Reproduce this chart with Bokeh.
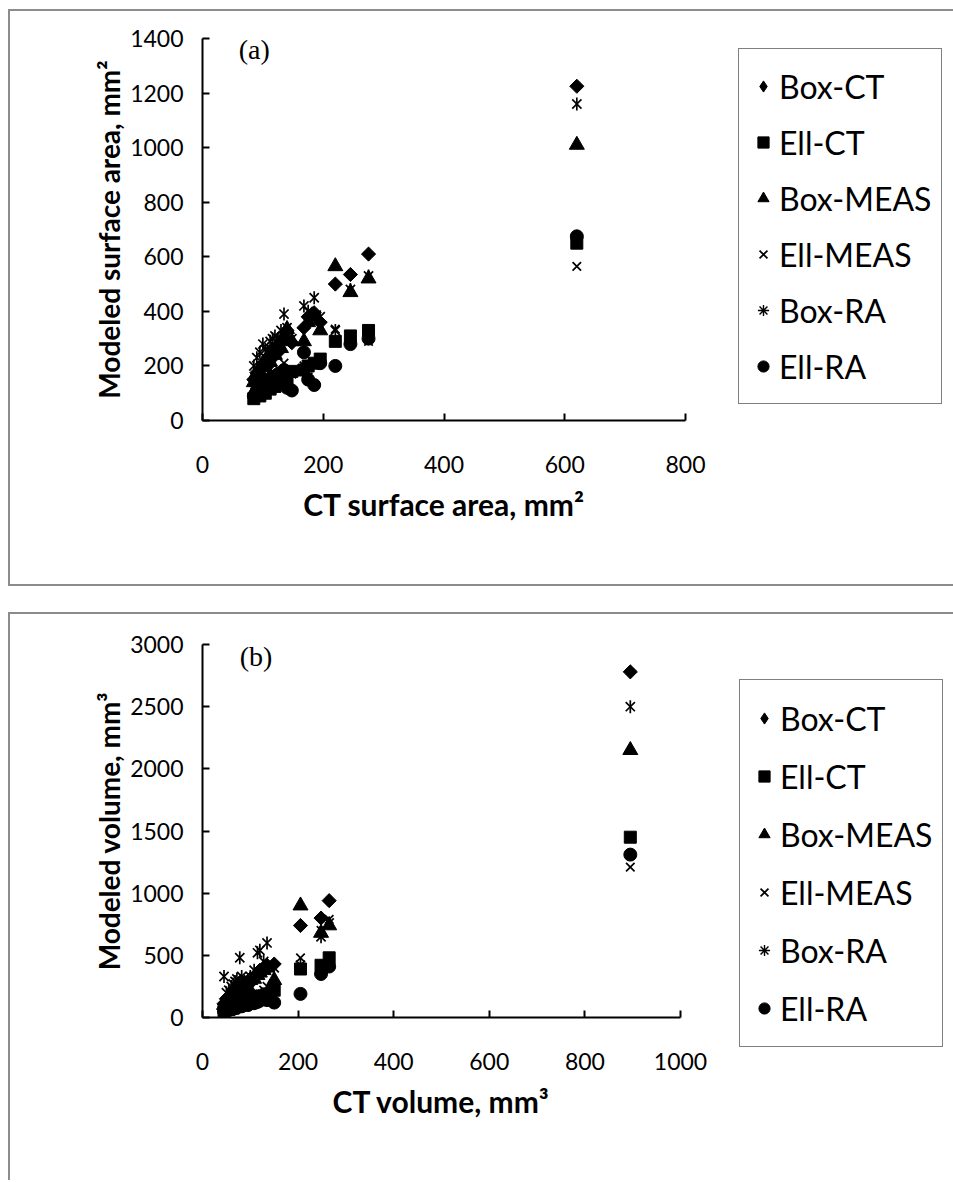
import math
from bokeh.plotting import figure
from bokeh.models import Range1d, FixedTicker, Legend, LegendItem, Label, Spacer
from bokeh.layouts import column
from bokeh.embed import file_html
from bokeh.resources import INLINE

# ---------------- data ----------------
series_names = ["Box-CT", "Ell-CT", "Box-MEAS", "Ell-MEAS", "Box-RA", "Ell-RA"]

# Panel (a): surface area
ct_surface = [85, 90, 95, 100, 104, 108, 112, 116, 120, 125, 130, 135, 140, 148,
              168, 175, 185, 195, 220, 245, 275, 620]
sa_box_ct = [150, 175, 170, 205, 215, 200, 240, 230, 265, 250, 290, 300, 330, 285,
             340, 380, 395, 360, 500, 535, 610, 1225]
sa_ell_ct = [80, 95, 90, 110, 100, 125, 115, 140, 125, 160, 135, 170, 150, 180,
             185, 200, 210, 225, 290, 310, 330, 650]
sa_box_meas = [140, 175, 160, 210, 195, 225, 215, 255, 240, 280, 265, 310, 335, 290,
               290, 360, 380, 330, 565, 470, 520, 1010]
sa_ell_meas = [95, 120, 105, 140, 125, 160, 130, 175, 150, 190, 165, 210, 185, 170,
               200, 160, 210, 220, 335, 290, 290, 565]
sa_box_ra = [200, 230, 250, 280, 260, 255, 290, 300, 310, 300, 330, 390, 340, 300,
             420, 400, 450, 380, 330, 480, 530, 1160]
sa_ell_ra = [90, 110, 100, 130, 115, 145, 125, 160, 135, 170, 145, 185, 120, 110,
             250, 150, 130, 210, 200, 280, 300, 675]

# Panel (b): volume
ct_volume = [45, 50, 55, 60, 64, 68, 72, 78, 82, 88, 95, 100, 108, 115,
             120, 128, 135, 150, 205, 248, 265, 895]
v_box_ct = [110, 150, 140, 190, 175, 220, 200, 250, 230, 280, 260, 310, 320, 350,
            380, 400, 420, 430, 740, 800, 940, 2780]
v_ell_ct = [55, 80, 65, 100, 75, 115, 90, 130, 105, 145, 120, 160, 140, 170,
            160, 175, 190, 220, 390, 420, 480, 1450]
v_box_meas = [100, 140, 125, 175, 160, 210, 190, 235, 215, 265, 245, 300, 310, 340,
              360, 380, 400, 300, 900, 680, 740, 2150]
v_ell_meas = [60, 90, 75, 110, 90, 130, 105, 150, 125, 165, 145, 185, 165, 175,
              190, 220, 250, 270, 480, 700, 790, 1210]
v_box_ra = [330, 200, 220, 250, 270, 290, 310, 480, 330, 290, 280, 330, 380, 520,
            540, 450, 600, 400, 420, 650, 760, 2500]
v_ell_ra = [50, 70, 60, 90, 70, 105, 80, 120, 90, 135, 100, 150, 115, 125,
            135, 150, 140, 120, 190, 350, 410, 1310]

a_xticks = [0, 200, 400, 600, 800]
a_yticks = [0, 200, 400, 600, 800, 1000, 1200, 1400]
b_xticks = [0, 200, 400, 600, 800, 1000]
b_yticks = [0, 500, 1000, 1500, 2000, 2500, 3000]

FONT = "Lato"
BORDER = "2px solid #8c8c8c"
CONTENT_W = 943


def make_panel(xs, ys_list, xr, yr, xticks, yticks, xlabel, ylabel, tag,
               frame_w, frame_h, mleft, mtop, mbottom, legend_entry,
               legend_vx, legend_gap_top, styles, margin, tag_pos):
    p = figure(output_backend="svg", toolbar_location=None,
               frame_width=frame_w, frame_height=frame_h,
               min_border_left=mleft, min_border_top=mtop,
               min_border_bottom=mbottom,
               min_border_right=CONTENT_W - mleft - frame_w,
               x_range=Range1d(*xr), y_range=Range1d(*yr),
               background_fill_color="white", border_fill_color="white",
               styles=styles, margin=margin)
    p.outline_line_color = None
    p.xgrid.visible = False
    p.ygrid.visible = False

    for ax, ticks in ((p.xaxis[0], xticks), (p.yaxis[0], yticks)):
        ax.ticker = FixedTicker(ticks=ticks)
        ax.minor_tick_line_color = None
        ax.major_tick_in = 7
        ax.major_tick_out = 0
        ax.axis_line_width = 2
        ax.axis_line_color = "black"
        ax.major_tick_line_width = 2
        ax.major_tick_line_color = "black"
        ax.major_label_text_font = FONT
        ax.major_label_text_font_size = "23px"
        ax.major_label_text_color = "black"
        ax.axis_label_text_font = FONT
        ax.axis_label_text_font_style = "bold"
        ax.axis_label_text_color = "black"
    p.xaxis.axis_label = xlabel
    p.yaxis.axis_label = ylabel
    p.xaxis.axis_label_text_font_size = "30px"
    p.yaxis.axis_label_text_font_size = "28px"
    p.xaxis.major_label_standoff = 35
    p.xaxis.axis_label_standoff = 10
    p.yaxis.major_label_standoff = 19
    p.yaxis.axis_label_standoff = 1

    (box_ct, ell_ct, box_meas, ell_meas, box_ra, ell_ra) = ys_list
    p.scatter(xs, box_ct, marker="square", angle=math.pi / 4, size=10,
              color="black")
    r2 = p.scatter(xs, ell_ct, marker="square", size=12, color="black")
    r3 = p.scatter(xs, box_meas, marker="triangle", size=15, color="black")
    r4 = p.scatter(xs, ell_meas, marker="x", size=12, line_color="black",
                   line_width=1.7)
    p.scatter(xs, box_ra, marker="x", size=13, line_color="black",
              line_width=1.7)
    p.scatter(xs, box_ra, marker="dash", angle=math.pi / 2, size=13,
              line_color="black", line_width=1.7)
    r6 = p.scatter(xs, ell_ra, marker="circle", size=13, color="black")

    # hidden twins used only for the legend glyphs (legend ignores marker angles)
    g1 = p.scatter(xs, box_ct, marker="diamond", size=12, color="black",
                   visible=False)
    g5 = p.scatter(xs, box_ra, marker="asterisk", size=12, line_color="black",
                   line_width=1.4, visible=False)

    items = [LegendItem(label=series_names[0], renderers=[g1]),
             LegendItem(label=series_names[1], renderers=[r2]),
             LegendItem(label=series_names[2], renderers=[r3]),
             LegendItem(label=series_names[3], renderers=[r4]),
             LegendItem(label=series_names[4], renderers=[g5]),
             LegendItem(label=series_names[5], renderers=[r6])]
    n = len(items)
    pad, spacing = 10, 2
    legend_h = 2 * pad + n * legend_entry + (n - 1) * spacing
    legend = Legend(items=items,
                    location=(legend_vx, frame_h - legend_gap_top - legend_h),
                    padding=pad, spacing=spacing, margin=0,
                    glyph_width=28, glyph_height=legend_entry,
                    label_height=legend_entry, label_standoff=2,
                    label_text_font=FONT, label_text_font_size="32px",
                    label_text_color="black",
                    border_line_color="black", border_line_width=1.5,
                    background_fill_color="white", background_fill_alpha=1.0,
                    inactive_fill_alpha=0.0)
    p.add_layout(legend, "right")

    p.add_layout(Label(x=tag_pos[0], y=tag_pos[1], text=tag,
                       text_font="Liberation Serif", text_font_size="28px",
                       text_color="black", text_baseline="middle",
                       text_align="left"))
    return p


pa = make_panel(ct_surface,
                (sa_box_ct, sa_ell_ct, sa_box_meas, sa_ell_meas, sa_box_ra, sa_ell_ra),
                (0, 800), (0, 1400), a_xticks, a_yticks,
                "CT surface area, mm²", "Modeled surface area, mm²", "(a)",
                frame_w=481, frame_h=378, mleft=192, mtop=27, mbottom=168,
                legend_entry=54, legend_vx=53, legend_gap_top=8,
                styles={"border-left": BORDER, "border-top": BORDER,
                        "border-bottom": BORDER},
                margin=(9, 0, 0, 8),
                tag_pos=(60, 1360))

pb = make_panel(ct_volume,
                (v_box_ct, v_ell_ct, v_box_meas, v_ell_meas, v_box_ra, v_ell_ra),
                (0, 1000), (0, 3000), b_xticks, b_yticks,
                "CT volume, mm³", "Modeled volume, mm³", "(b)",
                frame_w=476, frame_h=371, mleft=191, mtop=30, mbottom=165,
                legend_entry=56, legend_vx=59, legend_gap_top=35,
                styles={"border-left": BORDER, "border-top": BORDER},
                margin=(0, 0, 0, 8),
                tag_pos=(78, 2900))

layout = column(pa, Spacer(height=26), pb, spacing=0)
open("out.html", "w").write(file_html(layout, INLINE))
